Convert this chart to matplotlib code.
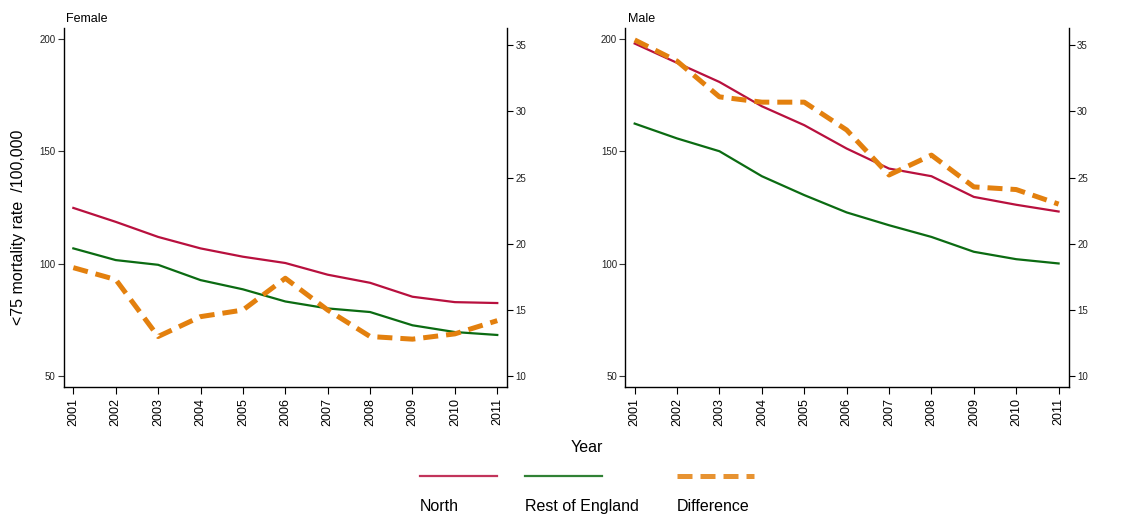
import numpy as np
import matplotlib
matplotlib.use("Agg")
import matplotlib.pyplot as plt
from matplotlib.lines import Line2D

plt.rcParams['font.family'] = ['Liberation Sans', 'DejaVu Sans']

# data
years = [2001, 2002, 2003, 2004, 2005, 2006, 2007, 2008, 2009, 2010, 2011]

female_north = [124.9, 118.7, 112.0, 106.9, 103.2, 100.4, 95.2, 91.6, 85.4, 83.0, 82.6]
female_rest = [106.9, 101.7, 99.6, 92.8, 88.7, 83.3, 80.2, 78.6, 72.7, 69.7, 68.4]
female_diff = [18.2, 17.3, 13.0, 14.5, 15.0, 17.4, 15.0, 13.0, 12.8, 13.2, 14.2]

male_north = [198.0, 189.4, 180.9, 170.1, 161.7, 151.3, 142.4, 139.0, 129.8, 126.3, 123.3]
male_rest = [162.4, 155.8, 150.1, 139.0, 130.6, 122.9, 117.2, 112.0, 105.4, 102.1, 100.2]
male_diff = [35.4, 33.8, 31.1, 30.7, 30.7, 28.6, 25.2, 26.7, 24.3, 24.1, 23.0]

left_ticks = [50, 100, 150, 200]
right_ticks = [10, 15, 20, 25, 30, 35]

c_north = '#b8103e'
c_rest = '#0b6b12'
c_diff = '#e3800e'

fig = plt.figure(figsize=(11.37, 5.16), dpi=100)

panels = [
    ("Female", female_north, female_rest, female_diff, 0.0563),
    ("Male", male_north, male_rest, male_diff, 0.5500),
]

for title, north, rest, diff, x0 in panels:
    ax = fig.add_axes([x0, 0.2506, 0.3900, 0.6951])
    ax.plot(years, north, color=c_north, lw=1.6)
    ax.plot(years, rest, color=c_rest, lw=1.6)
    ax.set_ylim(45.4, 204.9)
    ax.set_xlim(2000.78, 2011.24)
    ax.set_yticks(left_ticks)
    ax.set_xticks(years)
    ax.set_xticklabels([str(y) for y in years], rotation=90, fontsize=9)
    ax.tick_params(axis='y', labelsize=7, length=4, width=0.8, pad=2, colors='#333333', labelcolor='#222222')
    ax.tick_params(axis='x', length=5, width=0.8, pad=3)
    ax.spines['top'].set_visible(False)
    ax.spines['right'].set_visible(False)
    for s in ['left', 'bottom']:
        ax.spines[s].set_linewidth(1.0)
    ax.text(0.005, 1.008, title, transform=ax.transAxes, fontsize=9, ha='left', va='bottom')

    ax2 = ax.twinx()
    ax2.plot(years, diff, color=c_diff, lw=3.6, linestyle=(0, (3, 1.6)))
    ax2.set_ylim(9.21, 36.3)
    ax2.set_yticks(right_ticks)
    ax2.tick_params(axis='y', labelsize=7, length=4, width=0.8, pad=2, labelcolor='#222222')
    ax2.spines['top'].set_visible(False)
    ax2.spines['left'].set_visible(False)
    ax2.spines['bottom'].set_visible(False)
    ax2.spines['right'].set_linewidth(1.0)

fig.text(0.0165, 0.56, "<75 mortality rate  /100,000", rotation=90, fontsize=11.5,
         ha='center', va='center')
fig.text(0.516, 0.132, "Year", fontsize=11.5, ha='center', va='center')

# legend drawn by hand: line above, label below
legend_items = [("North", c_north, '-', 1.6, 0.3694),
                ("Rest of England", c_rest, '-', 1.6, 0.4617),
                ("Difference", c_diff, (0, (3, 1.6)), 3.6, 0.5954)]
for label, col, ls, lw, lx in legend_items:
    fig.add_artist(Line2D([lx, lx + 0.0677], [0.0775, 0.0775], color=col, lw=lw,
                          linestyle=ls, alpha=0.85, transform=fig.transFigure))
    fig.text(lx, 0.019, label, fontsize=11.5, ha='left', va='center')

fig.savefig("out.png", dpi=100)
